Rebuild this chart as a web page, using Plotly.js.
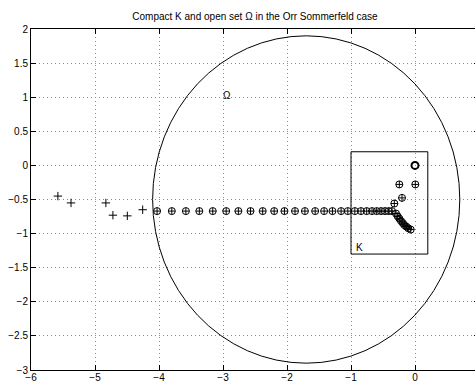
<!DOCTYPE html>
<html>
<head>
<meta charset="utf-8">
<script src="https://cdn.plot.ly/plotly-3.0.1.min.js"></script>
<style>
html, body { margin: 0; padding: 0; overflow: hidden; background: #fff; }
#chart { width: 479px; height: 382px; }
</style>
</head>
<body>
<div id="chart"></div>
<script>
// Eigenvalues outside Omega (plotted as "+")
const outsideX = [-5.58, -5.375, -4.83, -4.72, -4.495, -4.255];
const outsideY = [-0.45, -0.55, -0.55, -0.73, -0.74, -0.65];

// Eigenvalues inside Omega (plotted as "+" and "o")
const insideX = [-4.03, -3.80, -3.58, -3.37, -3.16, -2.95, -2.76, -2.57, -2.38, -2.20,
                 -2.04, -1.875, -1.72, -1.56, -1.42, -1.29, -1.155, -1.05, -0.94, -0.844,
                 -0.755, -0.672, -0.599, -0.531, -0.469, -0.411, -0.359,
                 -0.297, -0.271, -0.245, -0.219, -0.192, -0.167, -0.136, -0.105, -0.067,
                 -0.323, -0.203, -0.245, 0.005];
const insideY = [-0.67, -0.67, -0.67, -0.67, -0.67, -0.67, -0.67, -0.67, -0.67, -0.67,
                 -0.67, -0.67, -0.67, -0.67, -0.67, -0.67, -0.67, -0.67, -0.67, -0.67,
                 -0.67, -0.67, -0.67, -0.67, -0.67, -0.67, -0.67,
                 -0.706, -0.746, -0.78, -0.815, -0.844, -0.874, -0.897, -0.922, -0.941,
                 -0.559, -0.476, -0.279, -0.279];

// Cluster of eigenvalues at the origin (bold ring)
const clusterX = [0.0];
const clusterY = [0.0];

// Open set Omega: circle centre and radius
const omegaCenter = [-1.7, -0.5];
const omegaRadius = 2.4;

// Compact set K: rectangle corners
const kX = [-1.0, 0.2];
const kY = [-1.3, 0.2];

// Labels
const omegaLabel = {x: -2.93, y: 1.02, text: 'Ω'};
const kLabel = {x: -0.86, y: -1.2, text: 'K'};

const FONT = 'Liberation Sans, Arial, Helvetica, sans-serif';

const traces = [
  {x: outsideX, y: outsideY, type: 'scatter', mode: 'markers',
   marker: {symbol: 'cross-thin-open', size: 6, color: '#000', line: {color: '#000', width: 1}},
   hoverinfo: 'skip', showlegend: false},
  {x: insideX, y: insideY, type: 'scatter', mode: 'markers',
   marker: {symbol: 'circle-cross-open', size: 7, color: '#000', line: {color: '#000', width: 1}},
   hoverinfo: 'skip', showlegend: false},
  {x: clusterX, y: clusterY, type: 'scatter', mode: 'markers',
   marker: {symbol: 'circle-open', size: 7, color: '#000', line: {color: '#000', width: 2}},
   hoverinfo: 'skip', showlegend: false}
];

const axisCommon = {
  showline: true, linecolor: '#000', linewidth: 1, mirror: 'ticks',
  ticks: 'inside', ticklen: 5, tickwidth: 1, tickcolor: '#000',
  showgrid: true, gridcolor: '#888', gridwidth: 1, griddash: '1px,3px',
  zeroline: false, tickfont: {family: FONT, size: 10, color: '#000'}
};

const layout = {
  width: 479, height: 382,
  margin: {l: 31, r: 0, t: 29, b: 12},
  paper_bgcolor: '#fff', plot_bgcolor: '#fff',
  font: {family: FONT, size: 10, color: '#000'},
  title: {text: 'Compact K and open set Ω in the Orr Sommerfeld case',
          font: {family: FONT, size: 10, color: '#000'},
          xref: 'paper', x: 0.5, xanchor: 'center',
          yref: 'container', y: 1 - 16 / 382, yanchor: 'middle'},
  xaxis: Object.assign({}, axisCommon, {range: [-6, 1], tickmode: 'linear', tick0: -6, dtick: 1,
                                        ticklabelstandoff: -2}),
  yaxis: Object.assign({}, axisCommon, {range: [-3, 2], tickmode: 'linear', tick0: -3, dtick: 0.5}),
  shapes: [
    {type: 'circle', xref: 'x', yref: 'y',
     x0: omegaCenter[0] - omegaRadius, x1: omegaCenter[0] + omegaRadius,
     y0: omegaCenter[1] - omegaRadius, y1: omegaCenter[1] + omegaRadius,
     line: {color: '#000', width: 1}},
    {type: 'rect', xref: 'x', yref: 'y',
     x0: kX[0], x1: kX[1], y0: kY[0], y1: kY[1],
     line: {color: '#000', width: 1}}
  ],
  annotations: [
    {x: omegaLabel.x, y: omegaLabel.y, text: omegaLabel.text, showarrow: false,
     font: {family: FONT, size: 10, color: '#000'}},
    {x: kLabel.x, y: kLabel.y, text: kLabel.text, showarrow: false,
     font: {family: FONT, size: 10, color: '#000'}}
  ]
};

Plotly.newPlot('chart', traces, layout, {displayModeBar: false, staticPlot: true});
</script>
</body>
</html>
